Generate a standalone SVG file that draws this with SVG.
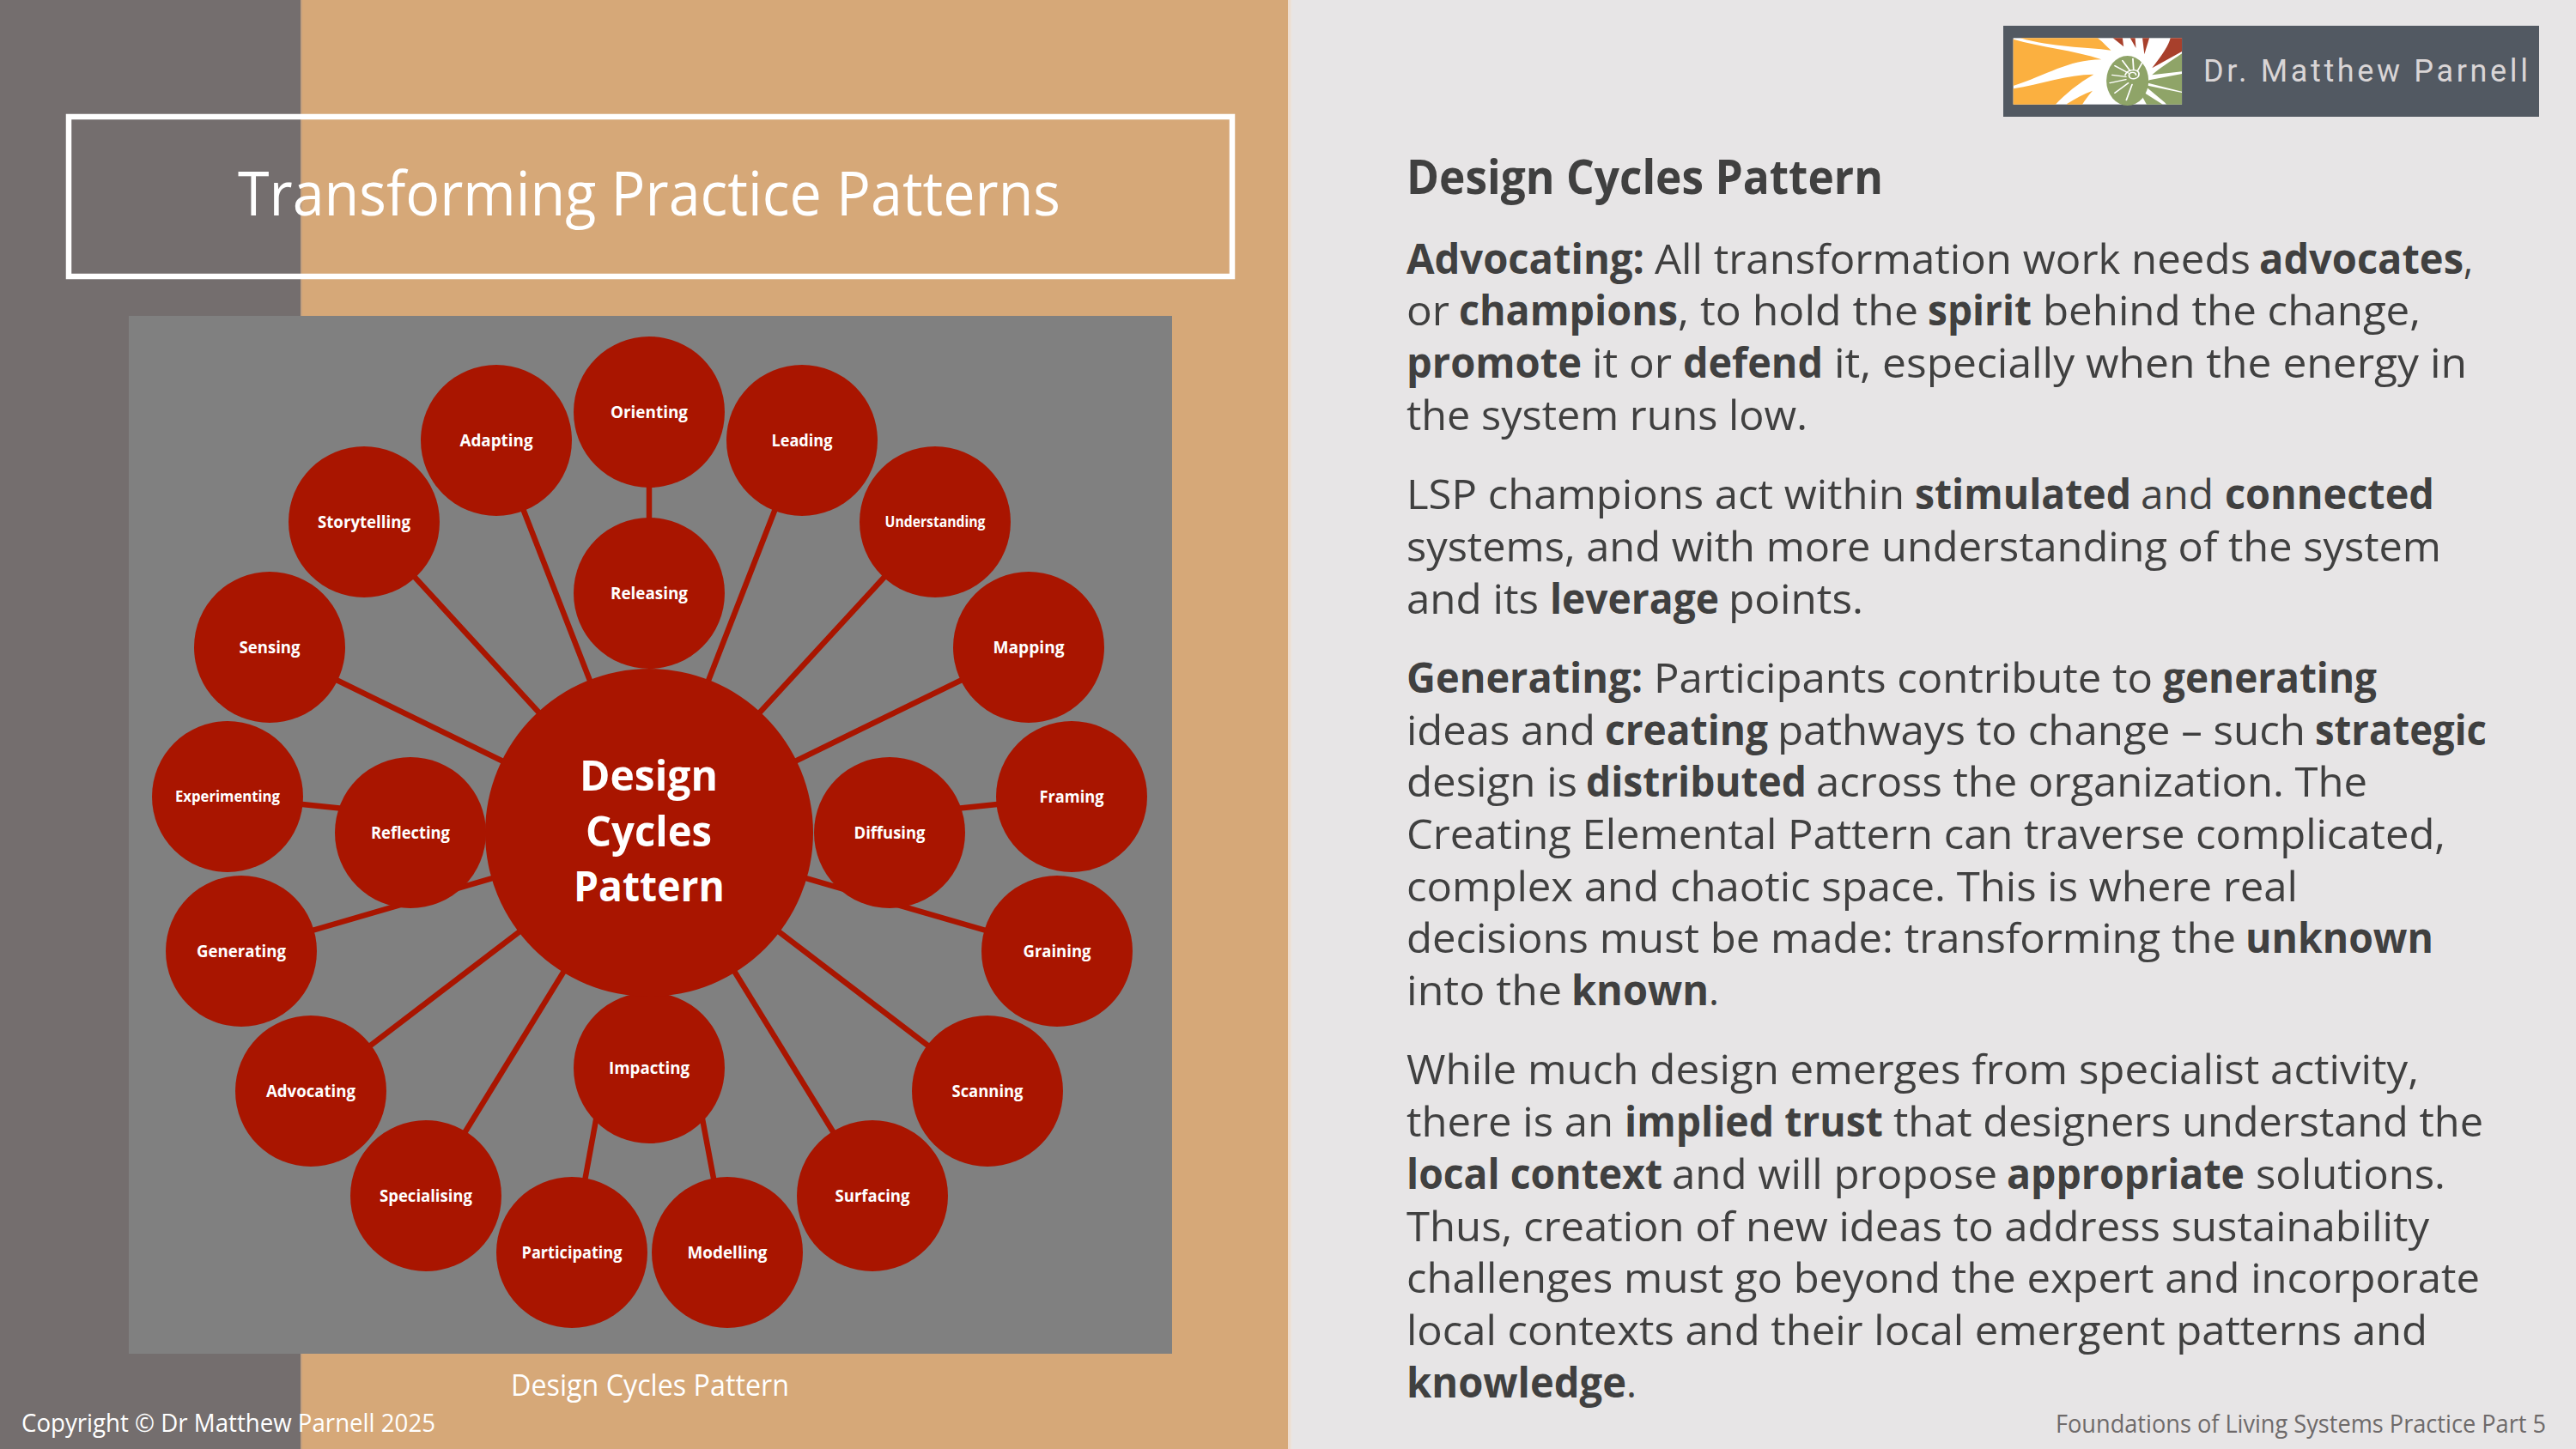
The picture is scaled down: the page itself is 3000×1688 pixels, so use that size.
<svg xmlns="http://www.w3.org/2000/svg" width="3000" height="1688" viewBox="0 0 3000 1688">
<style>
text{font-family:"Open Sans","Noto Sans",sans-serif}
.n circle{fill:#A91500}
.n text{fill:#fff;font-size:20px;font-weight:700;text-anchor:middle}
.n .c{font-size:49px;text-anchor:start}
.b,.k{font-size:48px;fill:#404040}
.k{font-weight:700}
#connectors line{stroke:#A91500;stroke-width:6.5}
</style>
<rect width="3000" height="1688" fill="#E7E5E6"/>
<rect width="1500" height="1688" fill="#D6A878"/>
<rect x="1500" width="3" height="1688" fill="#EEDDCF"/>
<rect x="1503" width="2" height="1688" fill="#EAE4E0"/>
<rect width="350" height="1688" fill="#746E6E"/>
<rect x="350" width="2" height="1688" fill="#C4A07E"/>
<rect x="80" y="136" width="1355" height="186" fill="none" stroke="#fff" stroke-width="6.5"/>
<text x="277" y="251" font-size="72" fill="#fff" textLength="958" lengthAdjust="spacingAndGlyphs">Transforming Practice Patterns</text>
<rect x="150" y="368" width="1215" height="1209" fill="#808080"/>
<g id="connectors">
<line x1="756" y1="691" x2="756" y2="480"/><line x1="756" y1="970" x2="578" y2="513"/><line x1="756" y1="970" x2="934" y2="513"/>
<line x1="756" y1="970" x2="424" y2="608"/><line x1="756" y1="970" x2="1089" y2="608"/><line x1="756" y1="970" x2="314" y2="754"/>
<line x1="756" y1="970" x2="1198" y2="754"/><line x1="478" y1="950" x2="265" y2="928"/><line x1="1036" y1="950" x2="1248" y2="928"/>
<line x1="756" y1="970" x2="281" y2="1108"/><line x1="756" y1="970" x2="1231" y2="1108"/><line x1="756" y1="970" x2="362" y2="1271"/>
<line x1="756" y1="970" x2="1150" y2="1271"/><line x1="756" y1="970" x2="496" y2="1393"/><line x1="756" y1="970" x2="1016" y2="1393"/>
<line x1="704" y1="1250" x2="666" y2="1458"/><line x1="808" y1="1250" x2="847" y2="1458"/>
</g>
<g class="n" id="n-orienting"><circle cx="756" cy="480" r="88"/><text x="756" y="487" textLength="90" lengthAdjust="spacingAndGlyphs">Orienting</text></g>
<g class="n" id="n-adapting"><circle cx="578" cy="513" r="88"/><text x="578" y="520" textLength="85" lengthAdjust="spacingAndGlyphs">Adapting</text></g>
<g class="n" id="n-leading"><circle cx="934" cy="513" r="88"/><text x="934" y="520" textLength="71" lengthAdjust="spacingAndGlyphs">Leading</text></g>
<g class="n" id="n-storytelling"><circle cx="424" cy="608" r="88"/><text x="424" y="615" textLength="108" lengthAdjust="spacingAndGlyphs">Storytelling</text></g>
<g class="n" id="n-understanding"><circle cx="1089" cy="608" r="88"/><text x="1089" y="614" textLength="117" lengthAdjust="spacingAndGlyphs" style="font-size:18px">Understanding</text></g>
<g class="n" id="n-sensing"><circle cx="314" cy="754" r="88"/><text x="314" y="761" textLength="71" lengthAdjust="spacingAndGlyphs">Sensing</text></g>
<g class="n" id="n-mapping"><circle cx="1198" cy="754" r="88"/><text x="1198" y="761" textLength="83" lengthAdjust="spacingAndGlyphs">Mapping</text></g>
<g class="n" id="n-experimenting"><circle cx="265" cy="928" r="88"/><text x="265" y="934" textLength="122" lengthAdjust="spacingAndGlyphs" style="font-size:18px">Experimenting</text></g>
<g class="n" id="n-framing"><circle cx="1248" cy="928" r="88"/><text x="1248" y="935" textLength="75" lengthAdjust="spacingAndGlyphs">Framing</text></g>
<g class="n" id="n-generating"><circle cx="281" cy="1108" r="88"/><text x="281" y="1115" textLength="104" lengthAdjust="spacingAndGlyphs">Generating</text></g>
<g class="n" id="n-graining"><circle cx="1231" cy="1108" r="88"/><text x="1231" y="1115" textLength="79" lengthAdjust="spacingAndGlyphs">Graining</text></g>
<g class="n" id="n-advocating"><circle cx="362" cy="1271" r="88"/><text x="362" y="1278" textLength="104" lengthAdjust="spacingAndGlyphs">Advocating</text></g>
<g class="n" id="n-scanning"><circle cx="1150" cy="1271" r="88"/><text x="1150" y="1278" textLength="83" lengthAdjust="spacingAndGlyphs">Scanning</text></g>
<g class="n" id="n-specialising"><circle cx="496" cy="1393" r="88"/><text x="496" y="1400" textLength="108" lengthAdjust="spacingAndGlyphs">Specialising</text></g>
<g class="n" id="n-surfacing"><circle cx="1016" cy="1393" r="88"/><text x="1016" y="1400" textLength="87" lengthAdjust="spacingAndGlyphs">Surfacing</text></g>
<g class="n" id="n-participating"><circle cx="666" cy="1459" r="88"/><text x="666" y="1466" textLength="117" lengthAdjust="spacingAndGlyphs">Participating</text></g>
<g class="n" id="n-modelling"><circle cx="847" cy="1459" r="88"/><text x="847" y="1466" textLength="93" lengthAdjust="spacingAndGlyphs">Modelling</text></g>
<g class="n" id="n-releasing"><circle cx="756" cy="691" r="88"/><text x="756" y="698" textLength="90" lengthAdjust="spacingAndGlyphs">Releasing</text></g>
<g class="n" id="n-reflecting"><circle cx="478" cy="970" r="88"/><text x="478" y="977" textLength="92" lengthAdjust="spacingAndGlyphs">Reflecting</text></g>
<g class="n" id="n-diffusing"><circle cx="1036" cy="970" r="88"/><text x="1036" y="977" textLength="83" lengthAdjust="spacingAndGlyphs">Diffusing</text></g>
<g class="n" id="n-impacting"><circle cx="756" cy="1244" r="88"/><text x="756" y="1251" textLength="94" lengthAdjust="spacingAndGlyphs">Impacting</text></g>
<g class="n" id="n-centre"><circle cx="756" cy="970" r="191"/>
<text class="c"><tspan x="675" y="921" textLength="161" lengthAdjust="spacingAndGlyphs">Design</tspan><tspan x="682" y="986" textLength="147" lengthAdjust="spacingAndGlyphs">Cycles</tspan><tspan x="668" y="1050" textLength="176" lengthAdjust="spacingAndGlyphs">Pattern</tspan></text></g>
<text x="595" y="1626" font-size="34" fill="#fff" textLength="324" lengthAdjust="spacingAndGlyphs">Design Cycles Pattern</text>
<text x="25" y="1668" font-size="29" fill="#fff" textLength="482" lengthAdjust="spacingAndGlyphs">Copyright © Dr Matthew Parnell 2025</text>
<text x="2394" y="1669" font-size="29" fill="#6E6A6A" textLength="571" lengthAdjust="spacingAndGlyphs">Foundations of Living Systems Practice Part 5</text>
<g id="logo">
<rect x="2333" y="30" width="624" height="106" fill="#525962"/>
<g transform="translate(2300,0) scale(.4464,.3333)">
<rect x="100" y="133" width="440" height="232" fill="#fff"/>
<g fill="#FBB040">
<path d="M118 133H320C335 148 345 165 355 176C290 165 200 165 118 133Z"/>
<path d="M100 137C170 165 260 175 330 208C240 210 190 262 100 300Z"/>
<path d="M100 310C170 295 240 260 310 260C270 290 235 330 210 365H100Z"/>
<path d="M240 363C260 345 285 328 307 317C295 335 287 350 280 365H240Z"/>
</g>
<g fill="#A8402C">
<path d="M360 133H385L388 163Z"/>
<path d="M405 133H418L420 168Z"/>
<path d="M437 133H455L442 190Z"/>
<path d="M510 133H540V180L462 238C490 190 505 160 510 133Z"/>
</g>
<g fill="#8FA468">
<ellipse cx="398" cy="282" rx="55" ry="87"/>
<path d="M540 187C510 215 480 240 462 262L540 250Z"/>
<path d="M540 258L455 280L445 288L540 320Z"/>
<path d="M540 324L440 296L495 358L500 365H540Z"/>
<path d="M490 365L425 310L448 365Z"/>
</g>
<g fill="none" stroke="#fff" stroke-width="4" stroke-linecap="round">
<path d="M400 255L365 230M405 248L385 212M414 245L412 205M424 248L438 215M394 268L358 262M394 278L352 290M400 290L365 325M410 295L395 350"/>
<path d="M420 262C420 250 402 250 402 264C402 280 428 280 428 258C428 240 398 240 392 262" stroke-width="4"/>
</g>
</g>
<text x="2566" y="95" font-size="36" fill="#D9D5D6" style="font-family:Roboto,sans-serif" textLength="378">Dr. Matthew Parnell</text>
</g>
<text x="1638" y="226" font-size="56" font-weight="700" fill="#404040" textLength="555" lengthAdjust="spacingAndGlyphs">Design Cycles Pattern</text>
<g id="body">
<text class="k" x="1638" y="319" textLength="277" lengthAdjust="spacingAndGlyphs">Advocating:</text>
<text class="b" x="1927" y="319" textLength="694" lengthAdjust="spacingAndGlyphs">All transformation work needs</text>
<text class="k" x="2631" y="319" textLength="238" lengthAdjust="spacingAndGlyphs">advocates</text>
<text class="b" x="2869" y="319" textLength="11" lengthAdjust="spacingAndGlyphs">,</text>
<text class="b" x="1638" y="379" textLength="50" lengthAdjust="spacingAndGlyphs">or</text>
<text class="k" x="1699" y="379" textLength="255" lengthAdjust="spacingAndGlyphs">champions</text>
<text class="b" x="1954" y="379" textLength="280" lengthAdjust="spacingAndGlyphs">, to hold the</text>
<text class="k" x="2245" y="379" textLength="121" lengthAdjust="spacingAndGlyphs">spirit</text>
<text class="b" x="2379" y="379" textLength="440" lengthAdjust="spacingAndGlyphs">behind the change,</text>
<text class="k" x="1638" y="440" textLength="204" lengthAdjust="spacingAndGlyphs">promote</text>
<text class="b" x="1854" y="440" textLength="93" lengthAdjust="spacingAndGlyphs">it or</text>
<text class="k" x="1960" y="440" textLength="163" lengthAdjust="spacingAndGlyphs">defend</text>
<text class="b" x="2136" y="440" textLength="737" lengthAdjust="spacingAndGlyphs">it, especially when the energy in</text>
<text class="b" x="1638" y="501" textLength="467" lengthAdjust="spacingAndGlyphs">the system runs low.</text>
<text class="b" x="1638" y="593" textLength="580" lengthAdjust="spacingAndGlyphs">LSP champions act within</text>
<text class="k" x="2230" y="593" textLength="252" lengthAdjust="spacingAndGlyphs">stimulated</text>
<text class="b" x="2493" y="593" textLength="85" lengthAdjust="spacingAndGlyphs">and</text>
<text class="k" x="2591" y="593" textLength="244" lengthAdjust="spacingAndGlyphs">connected</text>
<text class="b" x="1638" y="654" textLength="1205" lengthAdjust="spacingAndGlyphs">systems, and with more understanding of the system</text>
<text class="b" x="1638" y="715" textLength="154" lengthAdjust="spacingAndGlyphs">and its</text>
<text class="k" x="1805" y="715" textLength="197" lengthAdjust="spacingAndGlyphs">leverage</text>
<text class="b" x="2013" y="715" textLength="157" lengthAdjust="spacingAndGlyphs">points.</text>
<text class="k" x="1638" y="807" textLength="275" lengthAdjust="spacingAndGlyphs">Generating:</text>
<text class="b" x="1926" y="807" textLength="581" lengthAdjust="spacingAndGlyphs">Participants contribute to</text>
<text class="k" x="2519" y="807" textLength="249" lengthAdjust="spacingAndGlyphs">generating</text>
<text class="b" x="1638" y="868" textLength="220" lengthAdjust="spacingAndGlyphs">ideas and</text>
<text class="k" x="1869" y="868" textLength="190" lengthAdjust="spacingAndGlyphs">creating</text>
<text class="b" x="2070" y="868" textLength="615" lengthAdjust="spacingAndGlyphs">pathways to change – such</text>
<text class="k" x="2696" y="868" textLength="200" lengthAdjust="spacingAndGlyphs">strategic</text>
<text class="b" x="1638" y="928" textLength="199" lengthAdjust="spacingAndGlyphs">design is</text>
<text class="k" x="1847" y="928" textLength="257" lengthAdjust="spacingAndGlyphs">distributed</text>
<text class="b" x="2115" y="928" textLength="642" lengthAdjust="spacingAndGlyphs">across the organization. The</text>
<text class="b" x="1638" y="989" textLength="1210" lengthAdjust="spacingAndGlyphs">Creating Elemental Pattern can traverse complicated,</text>
<text class="b" x="1638" y="1050" textLength="1038" lengthAdjust="spacingAndGlyphs">complex and chaotic space. This is where real</text>
<text class="b" x="1638" y="1110" textLength="966" lengthAdjust="spacingAndGlyphs">decisions must be made: transforming the</text>
<text class="k" x="2615" y="1110" textLength="219" lengthAdjust="spacingAndGlyphs">unknown</text>
<text class="b" x="1638" y="1171" textLength="181" lengthAdjust="spacingAndGlyphs">into the</text>
<text class="k" x="1830" y="1171" textLength="160" lengthAdjust="spacingAndGlyphs">known</text>
<text class="b" x="1990" y="1171" textLength="12" lengthAdjust="spacingAndGlyphs">.</text>
<text class="b" x="1638" y="1263" textLength="1179" lengthAdjust="spacingAndGlyphs">While much design emerges from specialist activity,</text>
<text class="b" x="1638" y="1324" textLength="241" lengthAdjust="spacingAndGlyphs">there is an</text>
<text class="k" x="1892" y="1324" textLength="301" lengthAdjust="spacingAndGlyphs">implied trust</text>
<text class="b" x="2205" y="1324" textLength="687" lengthAdjust="spacingAndGlyphs">that designers understand the</text>
<text class="k" x="1638" y="1385" textLength="298" lengthAdjust="spacingAndGlyphs">local context</text>
<text class="b" x="1947" y="1385" textLength="379" lengthAdjust="spacingAndGlyphs">and will propose</text>
<text class="k" x="2337" y="1385" textLength="277" lengthAdjust="spacingAndGlyphs">appropriate</text>
<text class="b" x="2627" y="1385" textLength="221" lengthAdjust="spacingAndGlyphs">solutions.</text>
<text class="b" x="1638" y="1446" textLength="1191" lengthAdjust="spacingAndGlyphs">Thus, creation of new ideas to address sustainability</text>
<text class="b" x="1638" y="1506" textLength="1250" lengthAdjust="spacingAndGlyphs">challenges must go beyond the expert and incorporate</text>
<text class="b" x="1638" y="1567" textLength="1189" lengthAdjust="spacingAndGlyphs">local contexts and their local emergent patterns and</text>
<text class="k" x="1638" y="1628" textLength="256" lengthAdjust="spacingAndGlyphs">knowledge</text>
<text class="b" x="1894" y="1628" textLength="12" lengthAdjust="spacingAndGlyphs">.</text>
</g>
</svg>
